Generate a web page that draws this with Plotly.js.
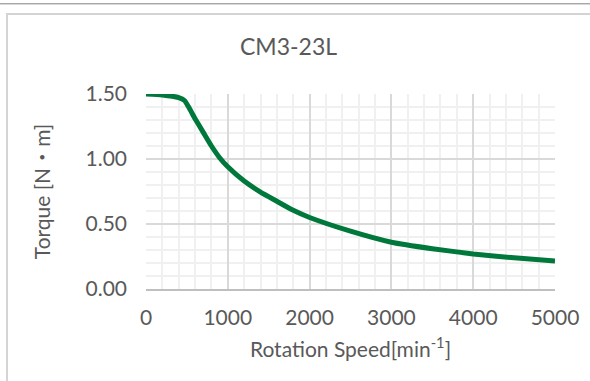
<!DOCTYPE html>
<html>
<head>
<meta charset="utf-8">
<script src="https://cdn.plot.ly/plotly-3.0.1.min.js"></script>
<style>
  html, body { margin: 0; padding: 0; background: #fff; }
  #wrap { position: relative; width: 590px; height: 381px; overflow: hidden; }
  #chart { position: absolute; left: 0; top: 0; width: 590px; height: 381px; }
  .ln { position: absolute; pointer-events: none; }
</style>
</head>
<body>
<div id="wrap">
  <div id="chart"></div>
  <div class="ln" style="left:0;top:3px;width:590px;height:1px;background:#a8a8a8;"></div>
  <div class="ln" style="left:0;top:4px;width:590px;height:1px;background:#d8d8d8;"></div>
  <div class="ln" style="left:6px;top:13px;width:584px;height:2px;background:#d4d4d4;"></div>
  <div class="ln" style="left:6px;top:13px;width:2px;height:368px;background:#d4d4d4;"></div>
</div>
<script>
const chartTitle = 'CM3-23L';
const xTitle = 'Rotation Speed[min<sup>-1</sup>]';
const yTitle = 'Torque [N・m]';

const speed  = [0, 200, 400, 470, 530, 600, 700, 800, 900, 1000, 1200, 1400, 1600, 1800, 2000, 2500, 3000, 3500, 4000, 4500, 5000];
const torque = [1.50, 1.493, 1.472, 1.45, 1.39, 1.31, 1.205, 1.10, 1.01, 0.94, 0.83, 0.745, 0.675, 0.605, 0.55, 0.445, 0.36, 0.31, 0.27, 0.24, 0.215];

const xTickVals = [0, 1000, 2000, 3000, 4000, 5000];
const yTickVals = [0, 0.5, 1.0, 1.5];
const yTickText = ['0.00', '0.50', '1.00', '1.50'];

const font = 'Lato, "Noto Sans CJK JP", sans-serif';
const txt = '#595959';

Plotly.newPlot('chart', [{
  x: speed, y: torque,
  type: 'scatter', mode: 'lines',
  line: { color: '#00783c', width: 5, shape: 'spline', smoothing: 0.5 },
  cliponaxis: false,
  hoverinfo: 'skip'
}], {
  width: 590, height: 381,
  margin: { l: 146, r: 35, t: 94, b: 92 },
  paper_bgcolor: '#ffffff', plot_bgcolor: '#ffffff',
  showlegend: false,
  font: { family: font, color: txt, size: 20 },
  title: { text: chartTitle, font: { family: font, size: 23, color: txt },
           xref: 'container', x: 0.489, xanchor: 'center', yref: 'container', y: 0.877, yanchor: 'middle' },
  xaxis: {
    range: [0, 5000], tickvals: xTickVals, ticktext: xTickVals.map(String),
    showgrid: true, gridcolor: '#d9d9d9', gridwidth: 2,
    minor: { dtick: 200, showgrid: true, gridcolor: '#f0f0f0', gridwidth: 2, ticks: '' },
    showline: true, linecolor: '#bfbfbf', linewidth: 2,
    zeroline: false, ticks: '', ticklabelstandoff: 9,
    tickfont: { family: font, size: 21, color: txt },
    title: { text: xTitle, font: { family: font, size: 21, color: txt }, standoff: 14 }
  },
  yaxis: {
    range: [0, 1.5], tickvals: yTickVals, ticktext: yTickText,
    showgrid: true, gridcolor: '#d9d9d9', gridwidth: 2,
    minor: { dtick: 0.1, showgrid: true, gridcolor: '#f0f0f0', gridwidth: 2, ticks: '' },
    showline: false, zeroline: false, ticks: '', ticklabelstandoff: 18,
    tickfont: { family: font, size: 21, color: txt },
    title: { text: yTitle, font: { family: font, size: 21, color: txt }, standoff: 29 }
  }
}, { displayModeBar: false, staticPlot: true });
</script>
</body>
</html>
